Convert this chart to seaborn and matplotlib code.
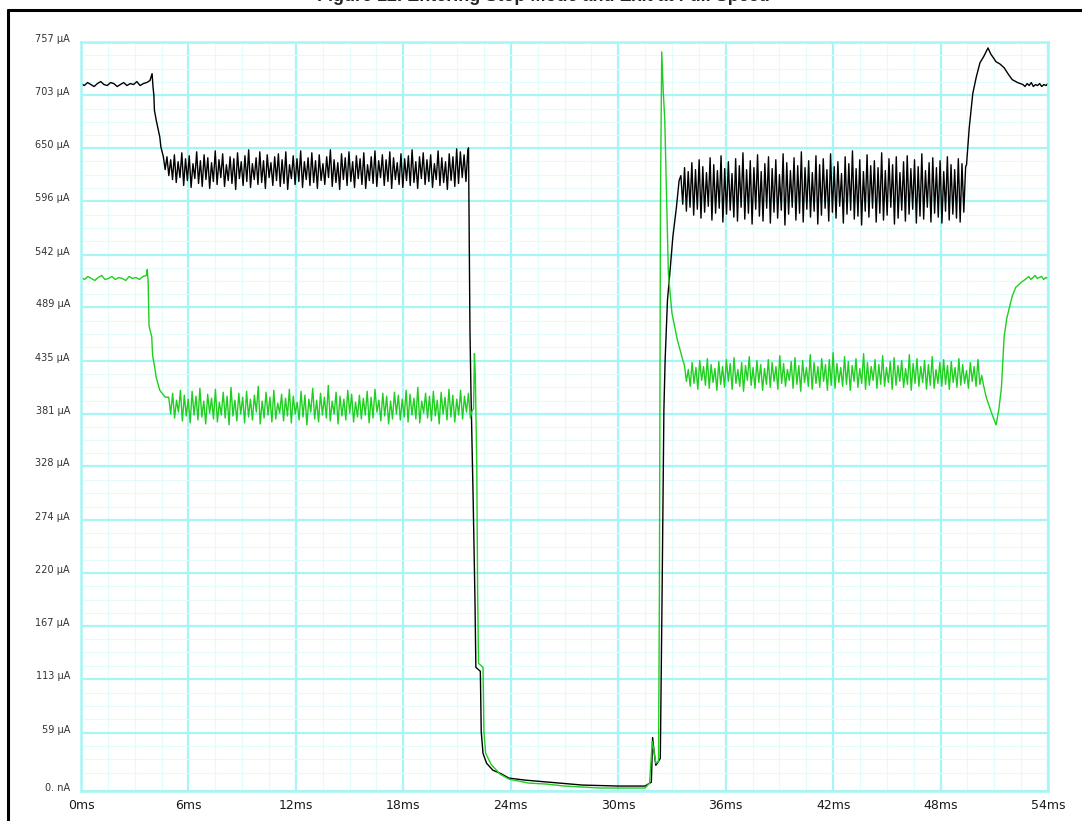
import numpy as np
import pandas as pd
import seaborn as sns
import matplotlib.pyplot as plt
from matplotlib.lines import Line2D
from matplotlib.transforms import ScaledTranslation

# ---- data (time in ms, current in uA) ----
x_ticks = [0, 6, 12, 18, 24, 30, 36, 42, 48, 54]
y_ticks = [0, 59, 113, 167, 220, 274, 328, 381, 435, 489, 542, 596, 650, 703, 757]
y_tick_labels = ["0. nA", "59 µA", "113 µA", "167 µA", "220 µA", "274 µA", "328 µA",
                 "381 µA", "435 µA", "489 µA", "542 µA", "596 µA", "650 µA", "703 µA", "757 µA"]

# black trace
black_lead_span = (0.0, 3.85)
black_lead = [715, 713, 716, 714, 712, 715, 717, 714, 713, 716, 715, 712, 714, 716, 713,
              715, 714, 717, 713, 715, 716, 718]
black_drop_t = [3.97, 4.02, 4.07, 4.1, 4.2, 4.4, 4.46, 4.6, 4.7]
black_drop = [725, 712, 703, 688, 678, 661, 651, 641, 628]
black_band1_span = (4.8, 21.6)
black_band1 = [641, 622, 638, 618, 643, 615, 636, 620, 645, 612, 639, 617, 642, 610, 634, 619, 646, 614, 637, 611,
               643, 618, 640, 609, 635, 616, 647, 613, 638, 620, 644, 611, 633, 617, 641, 614, 639, 608, 645, 619,
               636, 612, 642, 616, 648, 610, 634, 618, 640, 613, 646, 615, 637, 609, 643, 620, 635, 612, 641, 617,
               644, 611, 638, 614, 646, 608, 633, 619, 642, 613, 639, 616, 647, 610, 636, 618, 640, 612, 645, 615,
               637, 609, 643, 617, 634, 613, 641, 620, 648, 611, 638, 615, 635, 608, 644, 618, 640, 612, 646, 616,
               636, 610, 642, 619, 639, 613, 645, 609, 633, 617, 641, 614, 647, 611, 637, 620, 643, 612, 638, 616,
               646, 609, 640, 618, 635, 613, 644, 610, 639, 617, 642, 612, 648, 615, 636, 609, 641, 619, 645, 613,
               638, 616, 643, 610, 634, 618, 647, 612, 640, 615, 636, 608, 644, 617, 641, 611, 649, 614, 646, 620,
               643, 616, 647]
black_gap_t = [21.64, 21.68, 21.72, 21.78, 21.9, 22.0, 22.05, 22.3, 22.35, 22.45, 22.65, 23.0, 23.4,
               23.9, 24.8, 26.7, 28.0, 30.0, 31.5, 31.85, 31.92, 32.0, 32.1, 32.25, 32.35, 32.45,
               32.55, 32.62, 32.75, 32.9, 33.05, 33.25, 33.4]
black_gap = [650, 560, 466, 400, 294, 193, 125, 121, 60, 38, 28, 21, 18,
             13, 11, 8, 6, 5, 5, 9, 54, 40, 26, 30, 33, 200,
             385, 436, 496, 527, 560, 590, 617]
black_band2_span = (33.5, 49.4)
black_band2 = [622, 593, 630, 586, 626, 590, 635, 582, 628, 588, 638, 579, 631, 585, 625, 591, 640, 577, 633, 584,
               627, 589, 642, 575, 629, 583, 636, 587, 624, 580, 639, 576, 632, 590, 645, 578, 628, 584, 637, 573,
               630, 588, 643, 581, 626, 576, 634, 589, 641, 574, 629, 585, 638, 579, 623, 587, 644, 572, 635, 583,
               627, 590, 640, 577, 632, 584, 646, 575, 630, 588, 637, 580, 625, 586, 642, 573, 633, 582, 639, 589,
               628, 576, 644, 585, 631, 579, 636, 591, 624, 574, 641, 583, 634, 587, 647, 578, 629, 581, 638, 572,
               626, 586, 643, 580, 632, 589, 637, 575, 630, 584, 645, 577, 627, 582, 639, 590, 633, 573, 641, 579,
               625, 587, 636, 576, 642, 583, 629, 588, 638, 574, 631, 581, 644, 578, 627, 590, 635, 575, 640, 584,
               630, 580, 637, 574, 626, 586, 641, 577, 633, 583, 628, 579, 639, 575, 634, 585, 631]
black_tail_t = [49.45, 49.6, 49.8, 50.0, 50.2, 50.4, 50.65, 50.8, 51.1, 51.3, 51.55, 51.8, 52.0, 52.3]
black_tail = [633, 670, 705, 722, 736, 742, 751, 745, 737, 735, 731, 724, 719, 716]
black_end_span = (52.6, 54.0)
black_end = [714, 712, 715, 713, 716, 712, 714, 713, 715, 712, 714, 713, 715]

# green trace
green_lead_span = (0.0, 3.65)
green_lead = [519, 517, 520, 518, 516, 519, 521, 517, 518, 520, 517, 519, 518, 516, 520,
              518, 519, 517, 520, 521]
green_drop_t = [3.7, 3.75, 3.8, 3.95, 4.0, 4.1, 4.2, 4.4, 4.7]
green_drop = [527, 515, 470, 459, 440, 430, 418, 405, 398]
green_band1_span = (4.9, 21.85)
green_band1 = [398, 381, 402, 377, 395, 383, 405, 374, 400, 379, 396, 372, 404, 380, 399, 375, 407, 378, 394, 371,
               401, 382, 397, 376, 406, 373, 393, 380, 403, 377, 399, 370, 408, 379, 395, 374, 402, 381, 398, 372,
               404, 378, 396, 375, 400, 383, 409, 371, 394, 377, 403, 380, 398, 373, 405, 376, 392, 382, 401, 374,
               397, 379, 406, 372, 399, 381, 393, 375, 404, 378, 400, 370, 396, 383, 407, 376, 395, 373, 402, 380,
               398, 377, 410, 374, 394, 381, 403, 371, 399, 379, 396, 375, 405, 382, 401, 373, 393, 378, 400, 376,
               397, 380, 404, 372, 398, 377, 406, 383, 395, 374, 402, 379, 399, 371, 394, 376, 403, 381, 400, 375,
               396, 378, 405, 373, 401, 380, 397, 376, 408, 372, 394, 382, 402, 377, 399, 374, 404, 379, 395, 371,
               403, 381, 398, 375, 406, 378, 400, 373, 396, 380, 405, 376, 399, 383, 402, 377, 385]
green_gap_t = [21.92, 21.97, 22.02, 22.1, 22.15, 22.2, 22.45, 22.5, 22.6, 22.9, 23.4, 23.9, 25.0,
               26.0, 27.0, 29.0, 31.5, 31.75, 31.9, 32.0, 32.1, 32.25, 32.3, 32.36, 32.43, 32.52,
               32.6, 32.8, 33.0, 33.3, 33.6]
green_gap = [386, 442, 420, 330, 200, 129, 125, 60, 38, 27, 17, 12, 8,
             7, 5, 3, 3, 8, 50, 40, 28, 30, 200, 600, 747, 705,
             678, 523, 483, 456, 436]
green_band2_span = (33.7, 50.3)
green_band2 = [430, 414, 426, 409, 433, 412, 428, 406, 435, 415, 429, 410, 437, 407, 431, 413, 427, 405, 434, 411,
               429, 408, 436, 414, 432, 406, 438, 412, 426, 409, 433, 404, 430, 415, 439, 410, 428, 407, 435, 413,
               431, 405, 427, 411, 436, 408, 433, 414, 429, 406, 440, 412, 432, 409, 426, 415, 434, 407, 438, 411,
               430, 404, 435, 413, 428, 409, 441, 406, 433, 412, 429, 408, 437, 414, 431, 405, 436, 410, 443, 407,
               432, 413, 428, 409, 439, 411, 434, 405, 430, 414, 437, 408, 427, 412, 442, 406, 433, 410, 429, 415,
               436, 407, 431, 411, 440, 409, 428, 413, 434, 406, 438, 410, 430, 414, 435, 408, 427, 411, 441, 405,
               432, 412, 437, 409, 429, 413, 435, 406, 431, 410, 439, 407, 426, 412, 433, 409, 436, 411, 430, 406,
               434, 413, 428, 408, 437, 410, 431, 412, 425, 407, 433, 414, 429, 409, 436, 411, 420]
green_tail_t = [50.4, 50.55, 50.85, 51.1, 51.25, 51.4, 51.55, 51.7, 51.85, 52.0, 52.2, 52.5]
green_tail = [410, 398, 382, 370, 385, 408, 459, 478, 489, 500, 509, 514]
green_end_span = (52.8, 54.0)
green_end = [518, 520, 517, 519, 521, 518, 519, 520, 517, 519, 518]


def even(span, vals):
    return np.linspace(span[0], span[1], len(vals)), vals


def build(name, pieces):
    t = np.concatenate([np.asarray(p[0], dtype=float) for p in pieces])
    v = np.concatenate([np.asarray(p[1], dtype=float) for p in pieces])
    return pd.DataFrame({"time": t, "current": v, "trace": name})


black = build("black", [even(black_lead_span, black_lead), (black_drop_t, black_drop),
                        even(black_band1_span, black_band1), (black_gap_t, black_gap),
                        even(black_band2_span, black_band2), (black_tail_t, black_tail),
                        even(black_end_span, black_end)])
green = build("green", [even(green_lead_span, green_lead), (green_drop_t, green_drop),
                        even(green_band1_span, green_band1), (green_gap_t, green_gap),
                        even(green_band2_span, green_band2), (green_tail_t, green_tail),
                        even(green_end_span, green_end)])
df = pd.concat([black, green], ignore_index=True)

# ---- plotting ----
sns.set_style("white")
plt.rcParams["font.family"] = ["DejaVu Sans"]

W, H = 1082, 821
fig = plt.figure(figsize=(W / 100, H / 100), dpi=100)
ax = fig.add_axes([81 / W, 1 - 791 / H, (1048 - 81) / W, (791 - 42) / H])

major_c = "#a8f5f5"
minor_c = "#e3fbfb"

sns.lineplot(data=df, x="time", y="current", hue="trace", hue_order=["black", "green"],
             palette={"black": "#000000", "green": "#1fcf1f"}, estimator=None, sort=False,
             linewidth=1.0, legend=False, ax=ax)

ax.set_xlim(0, 54)
ax.set_ylim(0, 757)
ax.set_xticks(x_ticks)
ax.set_xticklabels([f"{t}ms" for t in x_ticks])
ax.set_yticks(y_ticks)
ax.set_yticklabels(y_tick_labels)

# minor grid: 4 divisions per major cell
x_minor = [a + k * 1.5 for a in x_ticks[:-1] for k in (1, 2, 3)]
y_minor = [59 - k * 13.5 for k in (1, 2, 3)]
for a, b in zip(y_ticks[1:-1], y_ticks[2:]):
    y_minor += [a + (b - a) * k / 4 for k in (1, 2, 3)]
ax.set_xticks(x_minor, minor=True)
ax.set_yticks(y_minor, minor=True)

ax.set_axisbelow(True)
ax.grid(which="major", color=major_c, linewidth=1.6)
ax.grid(which="minor", color=minor_c, linewidth=0.8)
for s in ax.spines.values():
    s.set_color(major_c)
    s.set_linewidth(1.8)

ax.tick_params(which="both", length=0)
ax.tick_params(axis="x", labelsize=9, pad=6, labelcolor="#1a1a1a")
ax.tick_params(axis="y", labelsize=7, pad=8, labelcolor="#333333")
ax.set_xlabel("")
ax.set_ylabel("")

shift = ScaledTranslation(0, 4 / 100, fig.dpi_scale_trans)
for lbl in ax.get_yticklabels():
    lbl.set_transform(lbl.get_transform() + shift)

# page frame and the caption, which the capture cuts off at the top edge
fig.add_artist(Line2D([8 / W, 8 / W], [0, 1 - 10 / H], color="black", linewidth=2.2,
                      transform=fig.transFigure))
fig.add_artist(Line2D([8 / W, 1], [1 - 10 / H, 1 - 10 / H], color="black", linewidth=2.2,
                      transform=fig.transFigure))
fig.text(0.502, 1 - 1.0 / H, "Figure 12. Entering Stop Mode and Exit at Full Speed",
         ha="center", va="baseline", fontsize=13, fontweight="bold",
         family=["Liberation Sans", "DejaVu Sans"])

fig.savefig("out.png", dpi=100)
